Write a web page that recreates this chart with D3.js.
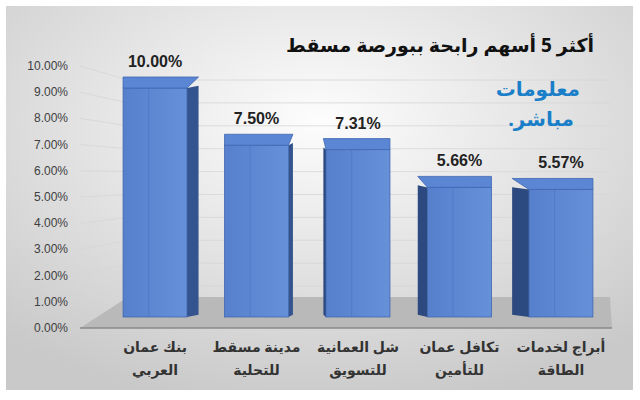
<!DOCTYPE html><html><head><meta charset="utf-8"><script src="https://cdn.jsdelivr.net/npm/d3@7"></script>
<style>body{margin:0;background:#fff}</style></head><body><svg id="c" width="640" height="400"></svg>
<script>
const categories=[["بنك عمان","العربي"],["مدينة مسقط","للتحلية"],["شل العمانية","للتسويق"],["تكافل عمان","للتأمين"],["أبراج لخدمات","الطاقة"]];
const values=[10.00,7.50,7.31,5.66,5.57];
const ticks=[0,1,2,3,4,5,6,7,8,9,10];
const title="أكثر 5 أسهم رابحة ببورصة مسقط";
const svg=d3.select("#c");
const defs=svg.append("defs");
const g=defs.append("radialGradient").attr("id","bg").attr("cx","50%").attr("cy","30%").attr("r","75%");
g.append("stop").attr("offset","0%").attr("stop-color","#fdfdfd");
g.append("stop").attr("offset","100%").attr("stop-color","#c9c9c9");
const fg=defs.append("linearGradient").attr("id","fr").attr("x1","0").attr("x2","1");
fg.append("stop").attr("offset","0").attr("stop-color","#5680cc");
fg.append("stop").attr("offset","1").attr("stop-color","#6690d8");
svg.append("rect").attr("x",6).attr("y",6).attr("width",627).attr("height",384).attr("fill","url(#bg)");
const yl=d3.scaleLinear().domain([0,10]).range([328,66]);
const yb=d3.scaleLinear().domain([0,10]).range([317,88]);
const x=d3.scaleBand().domain(d3.range(5)).range([118,598]).paddingInner(0.37).paddingOuter(0.05);
svg.append("path").attr("d","M80,328L612,328L610,297L128,297Z").attr("fill","#b9b9b9");
svg.append("line").attr("x1",80).attr("x2",612).attr("y1",328).attr("y2",328).attr("stroke","#8a8a8a").attr("stroke-width",1.5);
ticks.forEach(t=>{if(t==0)return;const y0=yl(t),y1=yb(t)-8;
svg.append("path").attr("d",`M80,${y0}L128,${y1}L610,${y1}`).attr("fill","none").attr("stroke","#d6d6d6").attr("stroke-width",0.8);});
svg.append("g").selectAll("text").data(ticks).join("text").attr("x",68).attr("y",t=>yl(t)+4).attr("text-anchor","end")
.attr("font-family","Liberation Sans, Arial").attr("font-size",12).attr("fill","#404040").text(t=>t.toFixed(2)+"%");
const cx=320;
values.forEach((v,i)=>{
 const L=x(i),R=L+x.bandwidth(),top=yb(v),bot=317;
 const mid=(L+R)/2, off=(mid-cx)*-0.07;
 const dy=11;
 if(off>0){svg.append("path").attr("d",`M${R},${top}L${R+off},${top-dy*0.2}L${R+off},${bot-dy*0.2}L${R},${bot}Z`).attr("fill","#34548f");}
 else if(off<0){svg.append("path").attr("d",`M${L},${top}L${L+off},${top-dy*0.2}L${L+off},${bot-dy*0.2}L${L},${bot}Z`).attr("fill","#2d4a80");}
 svg.append("rect").attr("x",L).attr("y",top).attr("width",R-L).attr("height",bot-top).attr("fill","url(#fr)").attr("stroke","#3f66b0").attr("stroke-width",0.8);
 svg.append("path").attr("d",`M${L},${top}L${R},${top}L${R+Math.max(off,0)},${top-dy}L${L+Math.min(off,0)},${top-dy}Z`).attr("fill","#5b86d4").attr("stroke","#3f66b0").attr("stroke-width",0.8);
 svg.append("line").attr("x1",L+(R-L)*0.4).attr("x2",L+(R-L)*0.4).attr("y1",top).attr("y2",bot).attr("stroke","#4a74c0").attr("stroke-width",0.6);
 svg.append("text").attr("x",mid).attr("y",top-dy-10).attr("text-anchor","middle").attr("font-family","Liberation Sans, Arial").attr("font-weight","bold").attr("font-size",16).attr("fill","#222").text(v.toFixed(2)+"%");
 categories[i].forEach((s,j)=>svg.append("text").attr("x",mid).attr("y",352+j*23).attr("text-anchor","middle").attr("direction","rtl").attr("font-family","Noto Sans, DejaVu Sans").attr("font-weight","bold").attr("font-size",14).attr("fill","#333").text(s));
});
svg.append("text").attr("x",594).attr("y",52).attr("text-anchor","start").attr("direction","rtl").attr("font-family","Noto Sans, DejaVu Sans").attr("font-weight","bold").attr("font-size",19).attr("fill","#111").text(title);
svg.append("text").attr("x",580).attr("y",96).attr("text-anchor","start").attr("direction","rtl").attr("font-family","Noto Sans, DejaVu Sans").attr("font-weight","bold").attr("font-size",20).attr("fill","#1a7fc8").text("معلومات");
svg.append("text").attr("x",574).attr("y",126).attr("text-anchor","start").attr("direction","rtl").attr("font-family","Noto Sans, DejaVu Sans").attr("font-weight","bold").attr("font-size",20).attr("fill","#1a7fc8").text("مباشر.");
</script></body></html>
